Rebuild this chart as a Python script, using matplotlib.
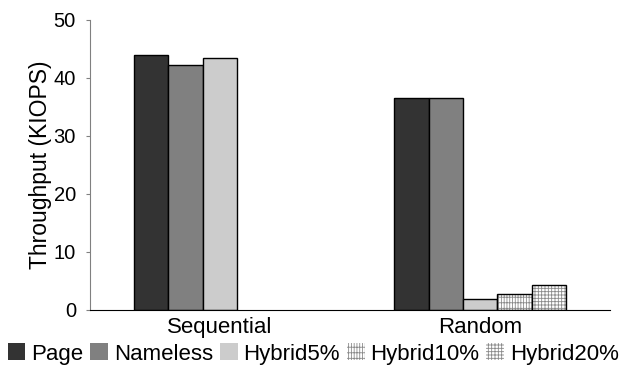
import matplotlib
matplotlib.use("Agg")
import matplotlib.pyplot as plt
from matplotlib.patches import Patch
import numpy as np

plt.rcParams['font.family'] = ['Liberation Sans', 'DejaVu Sans']
plt.rcParams['hatch.linewidth'] = 0.6

categories = ["Sequential", "Random"]
series = ["Page", "Nameless", "Hybrid5%", "Hybrid10%", "Hybrid20%"]
page = [44.0, 36.5]
nameless = [42.3, 36.6]
hybrid5 = [43.4, 1.8]
hybrid10 = [0.0, 2.7]
hybrid20 = [0.0, 4.2]
values = [page, nameless, hybrid5, hybrid10, hybrid20]

colors = ["#333333", "#808080", "#cccccc", "white", "white"]
hatches = [None, None, None, "||||||---", "+++++"]
hatch_color = "#8a8a8a"

fig = plt.figure(figsize=(6.24, 3.69), dpi=100)
ax = fig.add_axes([0.144, 0.161, 0.834, 0.785])

x = np.arange(len(categories))
width = 0.132
handles = []
for i, (name, vals) in enumerate(zip(series, values)):
    offs = (i - 2) * width
    vals = np.asarray(vals)
    shown = vals > 0
    # fill (with hatch in grey), then black outline on top
    ax.bar(x[shown] + offs, vals[shown], width, color=colors[i],
           edgecolor=hatch_color, linewidth=0, hatch=hatches[i])
    ax.bar(x[shown] + offs, vals[shown], width, fill=False,
           edgecolor="black", linewidth=1.0)
    handles.append(Patch(facecolor=colors[i], edgecolor=hatch_color if hatches[i] else colors[i],
                         linewidth=0, hatch=hatches[i]))

ax.set_xlim(-0.5, 1.5)
ax.set_ylim(0, 50)
ax.set_yticks([0, 10, 20, 30, 40, 50])
ax.set_xticks(x)
ax.set_xticklabels(categories, fontsize=16)
ax.tick_params(axis='x', length=0, pad=5)
ax.tick_params(axis='y', labelsize=14.5, length=3, color="#808080", pad=7)
ax.spines['top'].set_visible(False)
ax.spines['right'].set_visible(False)
ax.spines['left'].set_color("#808080")
ax.spines['bottom'].set_color("black")
ax.set_ylabel("Throughput (KIOPS)", fontsize=16.5, labelpad=1)

fig.legend(handles=handles, labels=series, loc="lower center",
           bbox_to_anchor=(0.502, -0.012), ncol=5, frameon=False, fontsize=16,
           handlelength=0.8, handleheight=0.8, handletextpad=0.27,
           columnspacing=0.3, borderaxespad=0.0)

fig.savefig("out.png", dpi=100)
